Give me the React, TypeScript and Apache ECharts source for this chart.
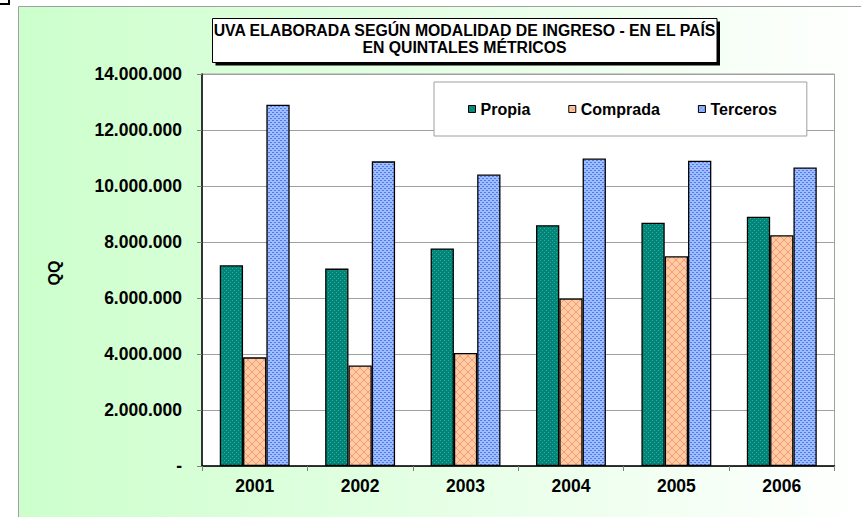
import React, { useEffect, useRef } from 'react';
import * as echarts from 'echarts';

const categories = ['2001', '2002', '2003', '2004', '2005', '2006'];
const seriesNames = ['Propia', 'Comprada', 'Terceros'];
const propia = [7170000, 7050000, 7770000, 8600000, 8690000, 8900000];
const comprada = [3880000, 3590000, 4040000, 5980000, 7490000, 8240000];
const terceros = [12900000, 10880000, 10410000, 10980000, 10900000, 10660000];
const yMin = 0;
const yMax = 14000000;
const yStep = 2000000;
const titleLines = ['UVA ELABORADA SEGÚN MODALIDAD DE INGRESO - EN EL PAÍS', 'EN QUINTALES MÉTRICOS'];
const yAxisName = 'QQ';

const FONT = '"Liberation Sans", Arial, Helvetica, sans-serif';

function makePattern(size: number, base: string, dots: [number, number, string][]) {
  const c = document.createElement('canvas');
  c.width = size;
  c.height = size;
  const ctx = c.getContext('2d')!;
  ctx.fillStyle = base;
  ctx.fillRect(0, 0, size, size);
  dots.forEach(([x, y, col]) => {
    ctx.fillStyle = col;
    ctx.fillRect(x, y, 1, 1);
  });
  return { image: c.toDataURL(), repeat: 'repeat', imageWidth: size, imageHeight: size } as any;
}

function fmt(v: number) {
  if (v === 0) return '-';
  return String(v).replace(/\B(?=(\d{3})+(?!\d))/g, '.');
}

export default function App() {
  const ref = useRef<HTMLDivElement>(null);
  useEffect(() => {
    if (!ref.current) return;
    const chart = echarts.init(ref.current, undefined, { renderer: 'svg' });

    const tealDot = '#35A89A';
    const pPropia = makePattern(4, '#008578', [[0, 0, tealDot], [2, 2, tealDot]]);
    const xDots: [number, number, string][] = [];
    for (let i = 0; i < 8; i++) {
      xDots.push([i, i, '#F59A88']);
      xDots.push([7 - i, i, '#F59A88']);
    }
    const pComprada = makePattern(8, '#FFCC9E', xDots);
    const bd = '#4F78F0';
    const pTerceros = makePattern(4, '#9EBEFF', [[0, 0, bd], [1, 0, bd], [2, 2, bd], [3, 2, bd]]);

    const barStyle = (color: any) => ({ color, borderColor: '#000', borderWidth: 1.3 });

    const textStyleBase = (size: number) => ({
      fill: '#000',
      fontSize: size,
      fontWeight: 'bold',
      fontFamily: FONT,
      align: 'center',
      verticalAlign: 'middle',
    });

    chart.setOption({
      animation: false,
      backgroundColor: '#ffffff',
      textStyle: { fontFamily: FONT },
      grid: {
        left: 202,
        right: 26.5,
        top: 74,
        bottom: 51,
        show: true,
        backgroundColor: '#ffffff',
        borderColor: '#a0a0a0',
        borderWidth: 1,
      },
      legend: {
        data: seriesNames,
        left: 434,
        top: 82,
        padding: [19, 30, 19, 34],
        itemGap: 38,
        itemWidth: 7,
        itemHeight: 7,
        icon: 'rect',
        selectedMode: false,
        backgroundColor: '#ffffff',
        borderColor: '#a0a0a0',
        borderWidth: 1,
        textStyle: { fontSize: 16, fontWeight: 'bold', color: '#000', fontFamily: FONT },
        itemStyle: { borderColor: '#000', borderWidth: 1 },
      },
      xAxis: {
        type: 'category',
        data: categories,
        axisLine: { lineStyle: { color: '#000', width: 1.5 } },
        axisTick: { show: true, length: 5, lineStyle: { color: '#808080' } },
        axisLabel: { fontSize: 17.5, fontWeight: 'bold', color: '#000', margin: 11, fontFamily: FONT },
      },
      yAxis: {
        type: 'value',
        min: yMin,
        max: yMax,
        interval: yStep,
        axisLine: { show: true, lineStyle: { color: '#000', width: 1.5 } },
        axisTick: { show: true, length: 5, lineStyle: { color: '#808080' } },
        splitLine: { lineStyle: { color: '#a0a0a0', width: 1 } },
        axisLabel: { fontSize: 17.5, fontWeight: 'bold', color: '#000', margin: 20, formatter: fmt, fontFamily: FONT },
      },
      graphic: [
        {
          type: 'rect',
          z: -100,
          silent: true,
          shape: { x: 18.5, y: 6.5, width: 850, height: 520 },
          style: {
            fill: new echarts.graphic.LinearGradient(0, 0, 1, 0, [
              { offset: 0, color: '#CCFFCC' },
              { offset: 1, color: '#FFFFFF' },
            ]),
            stroke: '#a0a0a0',
            lineWidth: 1,
          },
        },
        {
          type: 'rect',
          z: 50,
          shape: { x: -3, y: -4, width: 12, height: 8 },
          style: { fill: '#ffffff', stroke: '#000', lineWidth: 2 },
        },
        {
          type: 'rect',
          z: 50,
          shape: { x: 215.5, y: 21.5, width: 504.5, height: 44 },
          style: { fill: '#000' },
        },
        {
          type: 'rect',
          z: 51,
          shape: { x: 212.5, y: 18.5, width: 504.5, height: 44 },
          style: { fill: '#ffffff', stroke: '#000', lineWidth: 1 },
        },
        {
          type: 'text',
          z: 52,
          x: 464.5,
          y: 30.5,
          style: { text: titleLines[0], ...textStyleBase(15.8) },
        },
        {
          type: 'text',
          z: 52,
          x: 464.5,
          y: 47.5,
          style: { text: titleLines[1], ...textStyleBase(15.8) },
        },
        {
          type: 'text',
          z: 52,
          x: 54,
          y: 273,
          rotation: Math.PI / 2,
          style: { text: yAxisName, ...textStyleBase(16) },
        },
      ],
      series: [
        { name: seriesNames[0], type: 'bar', data: propia, barWidth: 23.3, barGap: '0%', itemStyle: barStyle(pPropia) },
        { name: seriesNames[1], type: 'bar', data: comprada, barWidth: 23.3, barGap: '0%', itemStyle: barStyle(pComprada) },
        { name: seriesNames[2], type: 'bar', data: terceros, barWidth: 23.3, barGap: '0%', itemStyle: barStyle(pTerceros) },
      ],
    });
    return () => chart.dispose();
  }, []);
  return <div ref={ref} style={{ position: 'absolute', left: 0, top: 0, width: 861, height: 517 }} />;
}
